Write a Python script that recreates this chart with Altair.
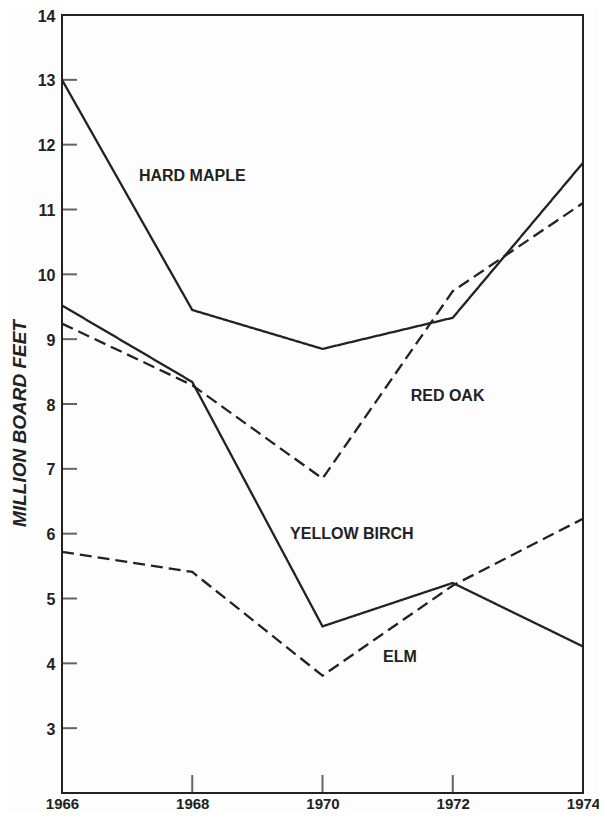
import altair as alt
import pandas as pd

# ---- data ----
years = [1966, 1968, 1970, 1972, 1974]
hard_maple = [13.0, 9.45, 8.85, 9.33, 11.72]
red_oak = [9.24, 8.29, 6.85, 9.74, 11.1]
yellow_birch = [9.52, 8.34, 4.57, 5.24, 4.26]
elm = [5.72, 5.41, 3.81, 5.2, 6.23]

series_names = ["HARD MAPLE", "RED OAK", "YELLOW BIRCH", "ELM"]
series_styles = ["solid", "dashed", "solid", "dashed"]
series_values = [hard_maple, red_oak, yellow_birch, elm]

# label anchor points (data units)
label_x = [1968.0, 1971.92, 1970.45, 1971.19]
label_y = [11.51, 8.13, 5.99, 4.09]

x_tick_labels = [1966, 1968, 1970, 1972, 1974]
x_inner_ticks = [1968, 1970, 1972]
y_tick_labels = list(range(3, 15))
y_inner_ticks = list(range(3, 14))

rows = []
for name, style, vals in zip(series_names, series_styles, series_values):
    for yr, v in zip(years, vals):
        rows.append({"year": yr, "value": v, "series": name, "style": style})
df = pd.DataFrame(rows)

labels_df = pd.DataFrame({"x": label_x, "y": label_y, "text": series_names})

INK = "#222222"
FONT = "Liberation Sans"

x_scale = alt.Scale(domain=[1966, 1974], nice=False, zero=False)
y_scale = alt.Scale(domain=[2, 14], nice=False, zero=False)

x_axis = alt.Axis(values=x_tick_labels, format="d", title=None, labelFontSize=15,
                  labelFontWeight="bold", labelPadding=3, labelColor=INK,
                  ticks=False, domain=False, grid=False, labelFlush=False)
y_axis = alt.Axis(values=y_tick_labels, format="d", title="MILLION BOARD FEET",
                  labelFontSize=16, labelFontWeight="bold", labelPadding=7,
                  labelOffset=1, labelColor=INK, ticks=False, domain=False, grid=False,
                  titleFontSize=19, titleFontStyle="italic", titleFontWeight="bold",
                  titleColor=INK, titleAngle=270, titleX=-43, titleY=408,
                  titleAlign="center", titleBaseline="middle", labelFlush=False)

lines = alt.Chart(df).mark_line(color=INK, strokeWidth=2.3).encode(
    x=alt.X("year:Q", scale=x_scale, axis=x_axis),
    y=alt.Y("value:Q", scale=y_scale, axis=y_axis),
    detail="series:N",
    strokeDash=alt.StrokeDash("style:N",
                              scale=alt.Scale(domain=["solid", "dashed"],
                                              range=[[1, 0], [12, 6]]),
                              legend=None),
)

texts = alt.Chart(labels_df).mark_text(font=FONT, fontSize=16, fontWeight="bold",
                                       color=INK, align="center", baseline="middle").encode(
    x=alt.X("x:Q", scale=x_scale),
    y=alt.Y("y:Q", scale=y_scale),
    text="text:N",
)

yticks = alt.Chart(pd.DataFrame({"v": y_inner_ticks})).mark_tick(
    orient="horizontal", size=15, thickness=2, xOffset=7.5, color=INK
).encode(
    x=alt.datum(1966, scale=x_scale),
    y=alt.Y("v:Q", scale=y_scale),
)

xticks = alt.Chart(pd.DataFrame({"t": x_inner_ticks})).mark_tick(
    orient="vertical", size=18, thickness=2, yOffset=-9, color=INK
).encode(
    x=alt.X("t:Q", scale=x_scale),
    y=alt.datum(2, scale=y_scale),
)

chart = alt.layer(lines, texts, yticks, xticks).properties(
    width=521,
    height=778,
    autosize=alt.AutoSizeParams(type="none"),
    padding={"left": 54, "top": 7, "right": 16, "bottom": 18},
    background="#fdfdfd",
).configure(font=FONT).configure_view(
    stroke=INK, strokeWidth=2
)

chart.save("out.html", embed_options={"renderer": "svg", "actions": False})
